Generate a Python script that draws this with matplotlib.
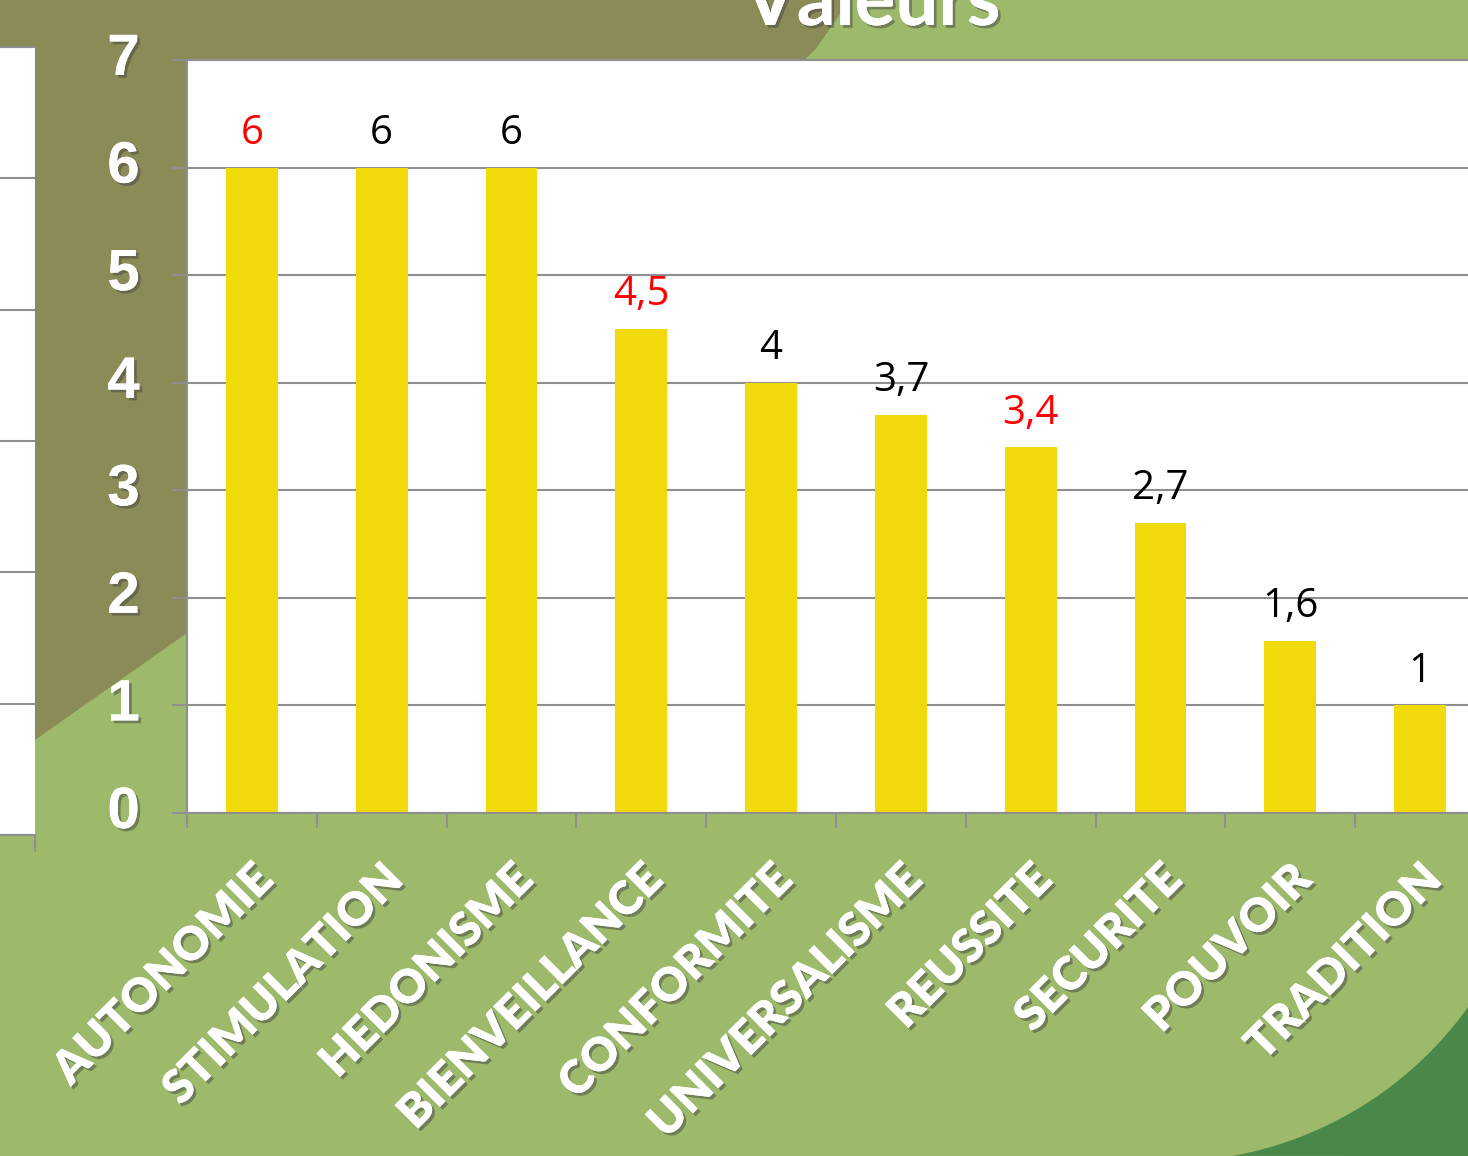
import numpy as np
import matplotlib
matplotlib.use("Agg")
import matplotlib.pyplot as plt
import matplotlib.patheffects as pe
from matplotlib.patches import Polygon

categories = ["AUTONOMIE", "STIMULATION", "HEDONISME", "BIENVEILLANCE", "CONFORMITE",
              "UNIVERSALISME", "REUSSITE", "SECURITE", "POUVOIR", "TRADITION"]
values = [6, 6, 6, 4.5, 4, 3.7, 3.4, 2.7, 1.6, 1]
labels = ["6", "6", "6", "4,5", "4", "3,7", "3,4", "2,7", "1,6", "1"]
label_colors = ["red", "black", "black", "red", "black", "black", "red", "black", "black", "black"]
yticks = [0, 1, 2, 3, 4, 5, 6, 7]

W, H = 1468, 1156
fig = plt.figure(figsize=(W / 100, H / 100), dpi=100)
fig.patch.set_facecolor("#9dba6b")

def px(pts):
    return [(x / W, 1 - y / H) for x, y in pts]

# background decoration, drawn in an axes behind everything
bg = fig.add_axes([0, 0, 1, 1], zorder=-10)
bg.set_xlim(0, 1)
bg.set_ylim(0, 1)
bg.axis("off")
bg.add_patch(Polygon(px([(0, 0), (850, 0), (815, 50), (187, 633), (35, 740), (0, 765)]),
                     closed=True, facecolor="#8b8b58", edgecolor="none"))
cx, cy, r = 1166, 790, 372
ang = np.linspace(np.radians(79.6), np.radians(35.7), 60)
arc = [(cx + r * np.cos(a), cy + r * np.sin(a)) for a in ang] + [(1468, 1156)]
bg.add_patch(Polygon(px(arc), closed=True, facecolor="#4a8849", edgecolor="none"))

grid_c = "#8f8f8f"
shadow = [pe.withSimplePatchShadow(offset=(2, -2), shadow_rgbFace="#444444", alpha=0.5), pe.Normal()]

# partial chart on the left
ax0 = fig.add_axes([0, (H - 835) / H, 35 / W, 788 / H])
ax0.set_facecolor("white")
ax0.set_ylim(0, 6)
ax0.set_xlim(0, 1)
ax0.set_yticks(range(7))
ax0.set_xticks([1])
ax0.tick_params(axis="y", length=0, labelleft=False)
ax0.tick_params(axis="x", length=12, color=grid_c, width=1.5, labelbottom=False)
ax0.grid(axis="y", color=grid_c, linewidth=1.5)
for s in ["left", "right"]:
    ax0.spines[s].set_visible(False)
for s in ["top", "bottom"]:
    ax0.spines[s].set_color(grid_c)
    ax0.spines[s].set_linewidth(1.5)

# main chart
ax = fig.add_axes([187 / W, (H - 813) / H, 1298 / W, 753 / H])
ax.set_facecolor("white")
x = np.arange(len(categories))
ax.bar(x, values, width=0.4, color="#f2da0a", zorder=2)
ax.set_xlim(-0.5, len(categories) - 0.5)
ax.set_ylim(0, 7)
ax.set_yticks(yticks)
ax.grid(axis="y", color=grid_c, linewidth=1.5, zorder=1)
ax.set_axisbelow(True)
ax.spines["right"].set_visible(False)
for s in ["left", "bottom", "top"]:
    ax.spines[s].set_color(grid_c)
    ax.spines[s].set_linewidth(1.5)

ax.tick_params(axis="y", length=11, width=1.5, color=grid_c, pad=23)
for t in ax.get_yticklabels():
    t.set_fontfamily("Liberation Sans")
    t.set_fontweight("bold")
    t.set_fontsize(42)
    t.set_color("white")
    t.set_verticalalignment("center")
    t.set_path_effects(shadow)

ax.set_xticks(np.arange(-0.5, len(categories), 1), minor=True)
ax.tick_params(axis="x", which="minor", length=11, width=1.5, color=grid_c)
ax.set_xticks(x)
ax.set_xticklabels(categories, rotation=45, ha="right", rotation_mode="anchor",
                   fontsize=33, fontweight="heavy", fontfamily="Lato", color="white")
ax.tick_params(axis="x", which="major", length=0, pad=32)
for t in ax.get_xticklabels():
    t.set_path_effects(shadow)

for xi, v, lab, c in zip(x, values, labels, label_colors):
    ax.annotate(lab, (xi, v), xytext=(0, 17), textcoords="offset points",
                ha="center", va="baseline", fontsize=29, fontfamily="Open Sans", color=c)

fig.text(872 / W, 1 - 25 / H, "Valeurs", ha="center", va="baseline", fontsize=55,
         fontweight="bold", fontfamily="Lato", color="white", path_effects=shadow)

fig.savefig("out.png", dpi=100)
